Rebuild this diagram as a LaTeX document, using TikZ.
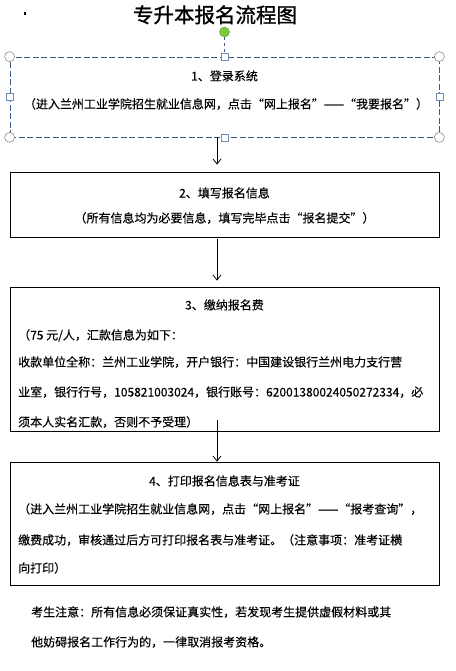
\documentclass[tikz,border=0pt]{standalone}
\usepackage{fontspec}
\setmainfont[FakeBold=0.25]{Noto Sans CJK SC}
\newfontfamily\titlefont[FakeBold=1.2]{Noto Sans CJK SC}
\usetikzlibrary{arrows.meta,positioning}
\XeTeXlinebreaklocale "zh"
\XeTeXlinebreakskip=0pt plus 3pt minus 0.5pt
\definecolor{FrameClr}{RGB}{60,90,130}
\definecolor{HandleClr}{RGB}{140,140,140}
\definecolor{SideClr}{RGB}{110,140,180}
\definecolor{KnobClr}{RGB}{125,200,60}
\definecolor{KnobEdge}{RGB}{90,150,50}

\begin{document}
\begin{tikzpicture}[x=1pt,y=-1pt,
  stepbox/.style={draw, line width=0.8pt, minimum width=429pt, inner sep=0pt},
  flow/.style={-{Straight Barb[length=5pt,width=8pt]}, line width=0.8pt},
  txt/.style={font=\fontsize{12}{29.5}\selectfont, inner sep=0pt},
  head/.style={txt, anchor=base},
  jline/.style={txt, anchor=base west, text width=#1, align=justify},
  corner/.style={circle, draw=HandleClr, fill=white, minimum size=10pt, inner sep=0pt, line width=0.6pt},
  side/.style={rectangle, draw=SideClr, fill=white, minimum size=7pt, inner sep=0pt, line width=0.6pt}]
\useasboundingbox (0,0) rectangle (455,671);

% title
\fill (23.5,12.5) rectangle (26,15);
\node[font=\titlefont\fontsize{20.5}{20.5}\selectfont, anchor=base, inner sep=0pt] (title) at (215,22.6) {专升本报名流程图};

% boxes
\node[stepbox, draw=FrameClr, dash pattern=on 6pt off 2.5pt, minimum height=80pt] (login) at (224.5,97) {};
\node[stepbox, minimum height=65pt] (fill) at (224.5,204.5) {};
\node[stepbox, minimum height=144pt] (pay) at (224.5,359) {};
\node[stepbox, minimum height=123pt] (print) at (224.5,523.5) {};

% selection handles of the first box
\node[circle, fill=KnobClr, draw=KnobEdge, minimum size=10pt, inner sep=0pt] (knob) at (224.5,32) {};
\draw[FrameClr, dashed, line width=0.6pt] (knob) -- (login.north);
\foreach \a in {north west,north east,south west,south east}
  \node[corner] at (login.\a) {};
\foreach \a in {north,south,east,west}
  \node[side] at (login.\a) {};

% step 1
\node[head] (login1) at (224.5,80.5) {1、登录系统};
\node[head] (login2) at (226,108.5) {（进入兰州工业学院招生就业信息网，点击“网上报名”——“我要报名”）};

% step 2
\node[head] (fill1) at (224.5,197.5) {2、填写报名信息};
\node[head] (fill2) at (224.5,222.5) {（所有信息均为必要信息，填写完毕点击“报名提交”）};

% step 3
\node[head] (pay1) at (224.5,309.5) {3、缴纳报名费};
\node[txt, anchor=base west] (pay2) at (18,339.5) {（75 元/人，汇款信息为如下：};
\node[jline=412pt] (pay3) at (18,366.5) {\parfillskip=0pt 收款单位全称：兰州工业学院，开户银行：中国建设银行兰州电力支行营};
\node[jline=412pt] (pay4) at (18,396.5) {\parfillskip=0pt 业室，银行行号，105821003024，银行账号：62001380024050272334，必};
\node[txt, anchor=base west] (pay5) at (18,426.5) {须本人实名汇款，否则不予受理）};

% step 4
\node[head] (print1) at (224.5,485.5) {4、打印报名信息表与准考证};
\node[jline=412pt] (print2) at (18,513.5) {\parfillskip=0pt （进入兰州工业学院招生就业信息网，点击“网上报名”——“报考查询”，};
\node[jline=412pt] (print3) at (18,544.5) {\parfillskip=0pt 缴费成功，审核通过后方可打印报名表与准考证。（注意事项：准考证横};
\node[txt, anchor=base west] (print4) at (18,572.5) {向打印）};

% note
\node[jline=385pt] (note1) at (31,616.5) {\parfillskip=0pt 考生注意：所有信息必须保证真实性，若发现考生提供虚假材料或其};
\node[txt, anchor=base west] (note2) at (31,646.5) {他妨碍报名工作行为的，一律取消报考资格。};

% connectors
\draw[flow] ([xshift=-7.5pt]login.south) -- ([xshift=-7.5pt,yshift=7pt]fill.north);
\draw[flow] ([xshift=-7.5pt,yshift=-2pt]fill.south) -- ([xshift=-7.5pt,yshift=6pt]pay.north);
\draw[flow] ([xshift=-7.5pt,yshift=11pt]pay.south) -- ([xshift=-7.5pt]print.north);
\end{tikzpicture}
\end{document}
